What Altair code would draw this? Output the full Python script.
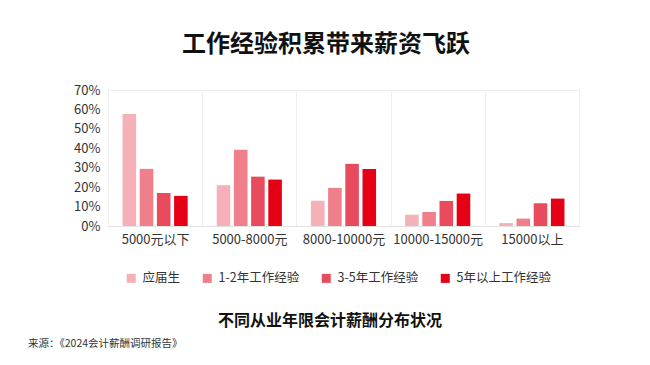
import altair as alt
import pandas as pd

categories = ["5000元以下", "5000-8000元", "8000-10000元", "10000-15000元", "15000以上"]
series = ["应届生", "1-2年工作经验", "3-5年工作经验", "5年以上工作经验"]
values = {
    "应届生": [0.577, 0.21, 0.13, 0.058, 0.015],
    "1-2年工作经验": [0.294, 0.393, 0.196, 0.072, 0.038],
    "3-5年工作经验": [0.17, 0.254, 0.32, 0.129, 0.117],
    "5年以上工作经验": [0.155, 0.239, 0.294, 0.167, 0.141],
}
colors = ["#F5B0B8", "#EF808B", "#E94B5E", "#E50016"]
y_ticks = [0, 0.1, 0.2, 0.3, 0.4, 0.5, 0.6, 0.7]

title_text = "工作经验积累带来薪资飞跃"
subtitle_text = "不同从业年限会计薪酬分布状况"
source_text = "来源：《2024会计薪酬调研报告》"

FONT = "Noto Sans CJK SC"

rows = []
for s in series:
    for c, v in zip(categories, values[s]):
        rows.append({"区间": c, "经验": s, "占比": v})
df = pd.DataFrame(rows)

bars = alt.Chart(df).mark_bar().encode(
    x=alt.X("区间:N", sort=categories, title=None,
            scale=alt.Scale(paddingInner=0, paddingOuter=0),
            axis=alt.Axis(labelAngle=0, labelFontSize=13, labelColor="#333333",
                          labelFont=FONT, labelPadding=7, ticks=False,
                          domainColor="#E3E3E3", grid=True, gridColor="#EEEEEE",
                          tickBand="extent")),
    xOffset=alt.XOffset("经验:N", sort=series,
                        scale=alt.Scale(paddingInner=0.21, paddingOuter=0.845)),
    y=alt.Y("占比:Q", title=None, scale=alt.Scale(domain=[0, 0.7]),
            axis=alt.Axis(values=y_ticks, format=".0%", domain=False, ticks=False,
                          grid=False, labelFontSize=13, labelColor="#333333",
                          labelFont=FONT, labelPadding=8)),
    color=alt.Color("经验:N", sort=series,
                    scale=alt.Scale(domain=series, range=colors),
                    legend=alt.Legend(title=None, orient="none", direction="horizontal",
                                      legendX=17, legendY=182, padding=0,
                                      symbolType="square", symbolSize=81,
                                      symbolStrokeWidth=0, labelFontSize=12.5,
                                      labelFont=FONT, labelColor="#333333",
                                      labelOffset=5, columnPadding=20)),
)

title = alt.Chart(pd.DataFrame({"t": [title_text]})).mark_text(
    font=FONT, fontSize=24, fontWeight="bold", color="#111111", align="center", baseline="middle"
).encode(text="t:N", x=alt.value(218), y=alt.value(-45))

subtitle = alt.Chart(pd.DataFrame({"t": [subtitle_text]})).mark_text(
    font=FONT, fontSize=16, fontWeight="bold", color="#111111", align="center", baseline="middle"
).encode(text="t:N", x=alt.value(222), y=alt.value(231))

source = alt.Chart(pd.DataFrame({"t": [source_text]})).mark_text(
    font=FONT, fontSize=10.5, color="#333333", align="left", baseline="middle"
).encode(text="t:N", x=alt.value(-80), y=alt.value(254))

chart = alt.layer(bars, title, subtitle, source).properties(
    width=471, height=136,
    autosize=alt.AutoSizeParams(type="none"),
    padding={"left": 100, "top": 82, "right": 50, "bottom": 125},
).configure_view(stroke="#EEEEEE")

chart.save("out.html", embed_options={"renderer": "svg", "actions": False})
